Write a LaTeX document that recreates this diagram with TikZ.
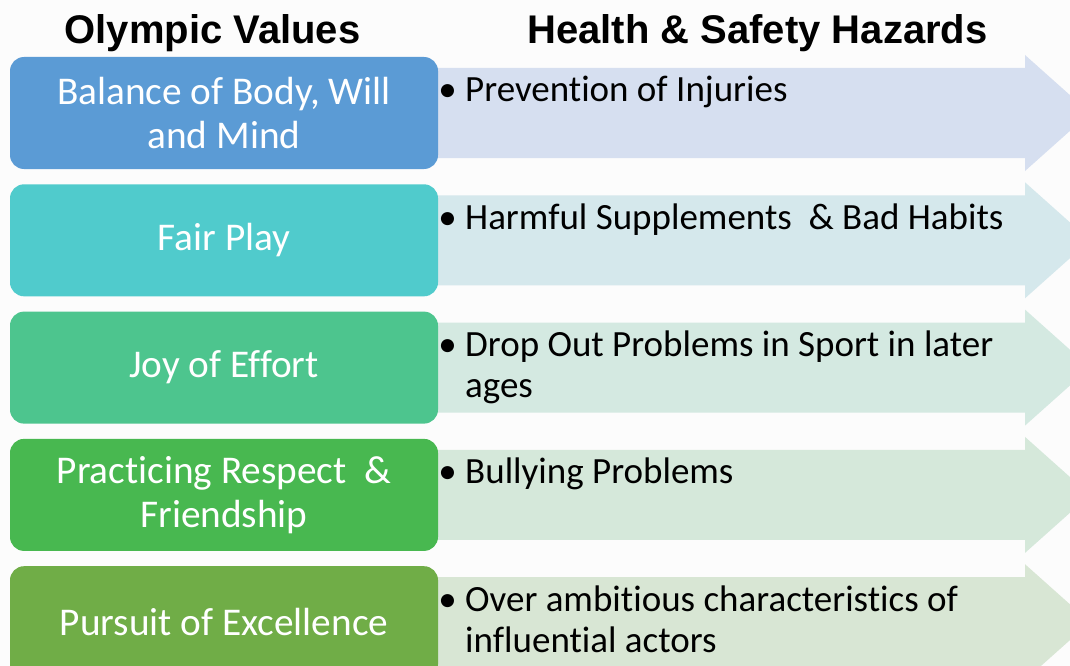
\documentclass[tikz,border=0pt]{standalone}
\usepackage{fontspec}
\setmainfont{Carlito}[Ligatures=NoCommon]
\newfontfamily\headfont{Liberation Sans}
\usetikzlibrary{positioning}

\definecolor{pagebg}{HTML}{FCFCFC}
\definecolor{valA}{HTML}{5B9BD5}
\definecolor{valB}{HTML}{50CBCC}
\definecolor{valC}{HTML}{4DC58E}
\definecolor{valD}{HTML}{48B850}
\definecolor{valE}{HTML}{70AD47}
\definecolor{arrA}{HTML}{D6DFF0}
\definecolor{arrB}{HTML}{D5E8EC}
\definecolor{arrC}{HTML}{D4E9E1}
\definecolor{arrD}{HTML}{D5E8DA}
\definecolor{arrE}{HTML}{D8E6D4}

\begin{document}
\begin{tikzpicture}[x=1pt,y=-1pt,
    heading/.style={font=\headfont\bfseries\fontsize{40}{44}\selectfont, inner sep=0pt},
    valbox/.style={rounded corners=14pt, minimum width=428pt, minimum height=112pt,
        inner sep=0pt, align=center, text=white, font=\fontsize{39.3}{44}\selectfont},
    hazard/.style={inner sep=0pt, align=left, anchor=north west,
        font=\fontsize{37}{41}\selectfont}]

\fill[pagebg] (0,0) rectangle (1070,666);
\useasboundingbox (0,0) rectangle (1070,666);

\node[heading] (olympic) at (212.5,33) {Olympic Values};
\node[heading] (hazards) at (757.5,33) {Health \& Safety Hazards};

\foreach \n/\c/\a/\v/\h in {
    1/valA/arrA/{Balance of Body, Will\\and Mind}/{Prevention of Injuries},
    2/valB/arrB/{Fair Play}/{Harmful Supplements \ \& Bad Habits},
    3/valC/arrC/{Joy of Effort}/{Drop Out Problems in Sport in later\\ages},
    4/valD/arrD/{Practicing Respect \ \&\\Friendship}/{Bullying Problems},
    5/valE/arrE/{Pursuit of Excellence}/{Over ambitious characteristics of\\influential actors}}
{
    \coordinate (row\n) at (224,{113+127.3*(\n-1)});
    % arrow behind the value box
    \fill[\a] ([shift={(201,-45)}]row\n) -- ([shift={(801,-45)}]row\n)
        -- ([shift={(801,-58)}]row\n) -- ([shift={(866,0)}]row\n)
        -- ([shift={(801,58)}]row\n) -- ([shift={(801,45)}]row\n)
        -- ([shift={(201,45)}]row\n) -- cycle;
    \node[valbox, fill=\c] (val\n) at (row\n) {\v};
    \node[hazard] (haz\n) at ([shift={(241,-40)}]row\n) {\strut\h};
    \node[hazard, anchor=north east] (bul\n) at ([xshift=-8pt]haz\n.north west) {\strut\textbullet};
}

\end{tikzpicture}
\end{document}
